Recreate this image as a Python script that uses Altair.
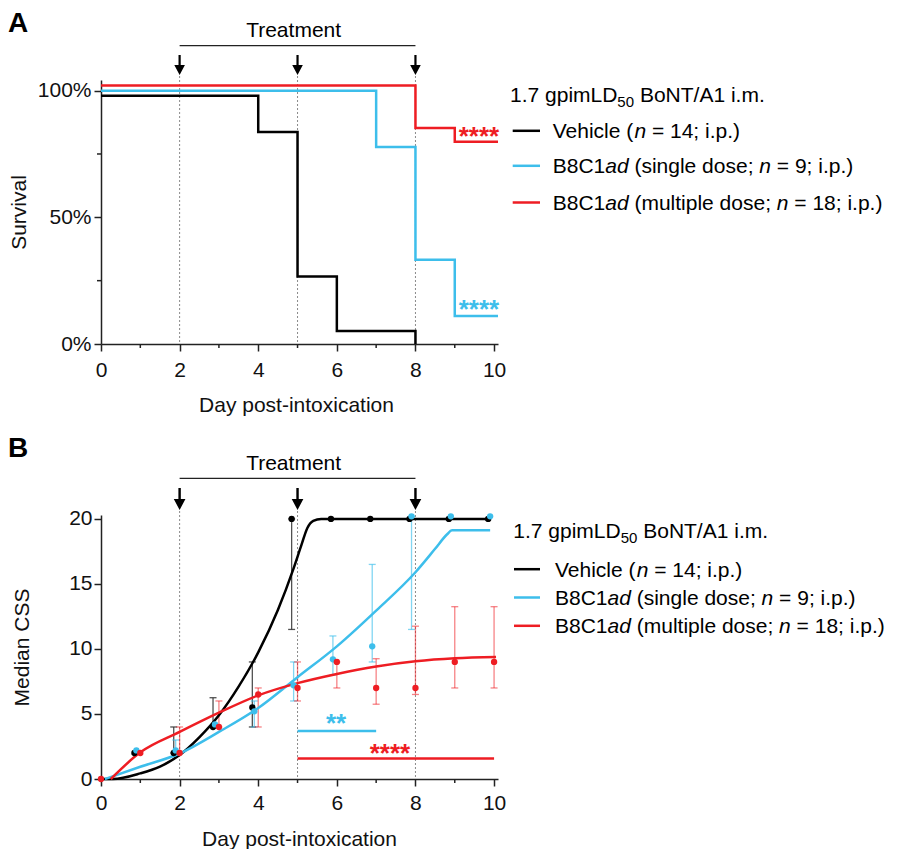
import altair as alt
import pandas as pd

FONT = "Liberation Sans"
FS = 21
SUB_FS = 15

GROUPS = ["Vehicle", "Single dose", "Multiple dose"]
COLORS = ["#000000", "#3DBEEB", "#EE1D23"]
BAR_COLORS = ["#333333", "#3DBEEB", "#EE1D23"]
BAR_OPAC = [0.85, 0.65, 0.55]
POINT_SHIFT = [-0.15, -0.1, 0.0]

LEGEND_TITLE = ["1.7 gpimLD", "50", "BoNT/A1 i.m."]
LEGEND_LABELS = ["Vehicle (_n_ = 14; i.p.)",
                 "B8C1_ad_ (single dose; _n_ = 9; i.p.)",
                 "B8C1_ad_ (multiple dose; _n_ = 18; i.p.)"]
TREAT_DAYS = [2, 5, 8]
X_MAJOR = [0, 2, 4, 6, 8, 10]
X_MINOR = [1, 3, 5, 7, 9]

# ---- Panel A: survival (as drawn) ----
SURV_DAYS = [[0, 4, 5, 6, 8], [0, 7, 8, 9, 10.1], [0, 8, 9, 10.1]]
SURV_VALS = [[98, 83.7, 26.6, 5.1, 0], [100, 77.8, 33.3, 11.1, 11.1], [102, 85.3, 79.8, 79.8]]
A_Y_MAJOR = [0, 50, 100]
A_Y_MINOR = [25, 75]
A_STARS = ["****", "****"]
A_STAR_X = [9.1, 9.1]
A_STAR_Y = [83.4, 15.1]
A_STAR_COL = [COLORS[2], COLORS[1]]

# ---- Panel B: median CSS ----
DAYS = [0, 1, 2, 3, 4, 5, 6, 7, 8, 9, 10]
MED = [[0, 2, 2, 4, 5.5, 20, 20, 20, 20, 20, 20],
       [0, 2.2, 2.2, 4.2, 5.2, 7.2, 9.2, 10.2, 20.2, 20.2, 20.2],
       [0, 2, 2, 4, 6.5, 7, 9, 7, 7, 9, 9]]
Q1 = [[0, 2, 2, 4, 4, 11.5, 20, 20, 20, 20, 20],
      [0, 2.2, 2, 4.2, 4, 6, 8, 9, 11.5, 20.2, 20.2],
      [0, 2, 2, 4, 4, 6, 7, 5.75, 6.5, 7, 7]]
Q3 = [[0, 2, 4, 6.25, 9, 20, 20, 20, 20, 20, 20],
      [0, 2.2, 3, 4.2, 6, 9, 11, 16.5, 20.2, 20.2, 20.2],
      [0, 2, 4, 6, 7, 9, 9, 9.25, 11.75, 13.25, 13.25]]
FIT_X = [[0, 0.3, 1, 1.5, 2, 2.5, 3, 3.5, 4, 4.5, 4.9, 5.1, 5.25, 5.4, 5.6, 9.9],
         [0.1, 1, 2, 3, 4, 5, 6, 7, 8, 8.5, 8.8, 8.93, 9.9],
         [0.25, 1, 2, 3, 4, 5, 6, 7, 8, 9, 10.05]]
FIT_Y = [[0, 0, 0.43, 0.95, 1.84, 3.2, 4.9, 7.1, 9.74, 13.0, 16.2, 18.0, 19.3, 19.85, 20, 20],
         [0, 0.94, 1.96, 3.62, 5.46, 7.83, 10.2, 12.95, 15.9, 17.7, 18.8, 19.12, 19.12],
         [0, 2.05, 3.62, 5.1, 6.43, 7.37, 8.08, 8.65, 9.05, 9.28, 9.38]]
B_Y_MAJOR = [0, 5, 10, 15, 20]
SIG_X1 = [5.0, 5.0]
SIG_X2 = [7.0, 10.0]
SIG_Y = [3.7, 1.58]
SIG_COL = [COLORS[1], COLORS[2]]
B_STARS = ["**", "****"]
B_STAR_X = [5.98, 7.35]
B_STAR_Y = [4.5, 2.2]

W, H = 397, 264
ARROW = "M-0.11,-1 L0.11,-1 L0.11,0 L0.53,0 L0,1 L-0.53,0 L-0.11,0 Z"

AW = {' ': 278, '(': 333, ')': 333, '.': 278, ';': 278, '=': 584, '/': 278, '*': 389, '%': 889, '-': 333}
for c in '0123456789':
    AW[c] = 556
AW.update({'A': 667, 'B': 667, 'C': 722, 'D': 722, 'L': 556, 'N': 722, 'T': 611, 'V': 667,
           'a': 556, 'b': 556, 'c': 500, 'd': 556, 'e': 556, 'g': 556, 'h': 556, 'i': 222,
           'l': 222, 'm': 833, 'n': 556, 'o': 556, 'p': 556, 's': 500, 't': 278, 'u': 556,
           'x': 500, 'r': 333, 'v': 500, 'y': 500})


def tw(s, size):
    return sum(AW.get(c, 556) for c in s) * size / 1000.0


def one(t=""):
    return pd.DataFrame({"t": [t]})


def txt(t, x, y, size=FS, style="normal", weight="normal", color="#000000", align="left"):
    return alt.Chart(one(t)).mark_text(font=FONT, fontSize=size, fontStyle=style, fontWeight=weight,
                                       color=color, align=align, baseline="alphabetic").encode(
        x=alt.value(x), y=alt.value(y), text="t:N")


def legend(x_title, yb_title, x_line0, x_line1, x_text, baselines):
    L = []
    x = x_title
    L.append(txt(LEGEND_TITLE[0], x, yb_title))
    x += tw(LEGEND_TITLE[0], FS)
    L.append(txt(LEGEND_TITLE[1], x, yb_title + 5, size=SUB_FS))
    x += tw(LEGEND_TITLE[1], SUB_FS) + tw(" ", FS)
    L.append(txt(LEGEND_TITLE[2], x, yb_title))
    sp = tw(" ", FS)
    for label, color, yb in zip(LEGEND_LABELS, COLORS, baselines):
        L.append(alt.Chart(one()).mark_rule(color=color, strokeWidth=2.5).encode(
            x=alt.value(x_line0), x2=alt.value(x_line1), y=alt.value(yb - 7.5)))
        x = x_text
        for k, seg in enumerate(label.split("_")):
            if not seg:
                continue
            lead = len(seg) - len(seg.lstrip(" "))
            trail = len(seg) - len(seg.rstrip(" "))
            core = seg.strip(" ")
            x += lead * sp
            L.append(txt(core, x, yb, style="italic" if k % 2 else "normal"))
            x += tw(core, FS) + trail * sp
    return L


def xaxis(title_x, title_y, lab_pad):
    return alt.Axis(values=X_MAJOR, tickSize=7, labelPadding=lab_pad, labelFlush=False, labelOverlap=False,
                    title="Day post-intoxication", titleX=title_x, titleY=title_y,
                    titleBaseline="alphabetic", titleAlign="center", grid=False)


def yaxis(values, title, title_x, lab_pad, expr=None):
    kw = dict(values=values, tickSize=7, labelPadding=lab_pad, labelFlush=False, labelOverlap=False,
              title=title, titleX=title_x, titleY=H / 2, titleBaseline="alphabetic",
              titleAlign="center", titleAngle=270, grid=False)
    if expr:
        kw["labelExpr"] = expr
    return alt.Axis(**kw)


def common_layers(xs, xax, arrow_y, arrow_size, bracket_y, treat_y, label, label_y):
    L = []
    L.append(alt.Chart(pd.DataFrame({"d": TREAT_DAYS})).mark_rule(
        color="#8a8a8a", strokeWidth=1, strokeDash=[2, 2]).encode(
        x=alt.X("d:Q", scale=xs, axis=xax), y=alt.value(-4), y2=alt.value(H)))
    L.append(alt.Chart(pd.DataFrame({"d": X_MINOR})).mark_rule(color="#222222", strokeWidth=1.5).encode(
        x=alt.X("d:Q", scale=xs, axis=xax), y=alt.value(H), y2=alt.value(H + 4)))
    L.append(alt.Chart(pd.DataFrame({"d": TREAT_DAYS})).mark_point(
        shape=ARROW, filled=True, size=arrow_size, color="#000000", opacity=1, strokeWidth=0).encode(
        x=alt.X("d:Q", scale=xs, axis=xax), y=alt.value(arrow_y)))
    L.append(alt.Chart(pd.DataFrame({"a": [TREAT_DAYS[0]], "b": [TREAT_DAYS[-1]]})).mark_rule(
        color="#222222", strokeWidth=1.3).encode(
        x=alt.X("a:Q", scale=xs, axis=xax), x2="b:Q", y=alt.value(bracket_y)))
    L.append(alt.Chart(pd.DataFrame({"d": [4.9], "t": ["Treatment"]})).mark_text(
        font=FONT, fontSize=FS, align="center", baseline="alphabetic", color="#000000").encode(
        x=alt.X("d:Q", scale=xs, axis=xax), y=alt.value(treat_y), text="t:N"))
    L.append(txt(label, -93, label_y, size=28, weight="bold"))
    return L


# ---------------- Panel A ----------------
xsA = alt.Scale(domain=[0, 10.1], nice=False, zero=False)
ysA = alt.Scale(domain=[0, 104.2], nice=False, zero=False)
xaxA = xaxis(195, 67, 8)
yaxA = yaxis(A_Y_MAJOR, "Survival", -76, 3, "datum.value + '%'")

LA = common_layers(xsA, xaxA, -15, 400, -34.3, -43.3, "A", -48)
LA.append(alt.Chart(pd.DataFrame({"v": A_Y_MINOR})).mark_rule(color="#222222", strokeWidth=1.5).encode(
    y=alt.Y("v:Q", scale=ysA, axis=yaxA), x=alt.value(0), x2=alt.value(-4)))
for g in range(3):
    df = pd.DataFrame({"day": SURV_DAYS[g], "s": SURV_VALS[g]})
    LA.append(alt.Chart(df).mark_line(interpolate="step-after", strokeWidth=2.5, color=COLORS[g]).encode(
        x=alt.X("day:Q", scale=xsA, axis=xaxA), y=alt.Y("s:Q", scale=ysA, axis=yaxA)))
dfs = pd.DataFrame({"t": A_STARS, "x": A_STAR_X, "y": A_STAR_Y, "c": A_STAR_COL})
LA.append(alt.Chart(dfs).mark_text(font=FONT, fontSize=26, fontWeight="bold", align="left",
                                   baseline="alphabetic", dy=12).encode(
    x=alt.X("x:Q", scale=xsA, axis=xaxA), y=alt.Y("y:Q", scale=ysA, axis=yaxA), text="t:N",
    color=alt.Color("c:N", scale=None)))
LA += legend(409, 21.7, 411.7, 439, 451.7, [58.3, 93.3, 130])
panelA = alt.layer(*LA).properties(width=W, height=H)

# ---------------- Panel B ----------------
xsB = alt.Scale(domain=[0, 10.1], nice=False, zero=False)
ysB = alt.Scale(domain=[0, 20.3], nice=False, zero=False)
xaxB = xaxis(198, 66, 6)
yaxB = yaxis(B_Y_MAJOR, "Median CSS", -73, 2)

LB = common_layers(xsB, xaxB, -16, 484, -36.7, -45, "B", -58.3)
# error bars
for g in range(3):
    rows = [(d + POINT_SHIFT[g], lo, hi) for d, lo, hi in zip(DAYS, Q1[g], Q3[g]) if hi > lo]
    df = pd.DataFrame(rows, columns=["x", "lo", "hi"])
    base = alt.Chart(df)
    LB.append(base.mark_rule(color=BAR_COLORS[g], opacity=BAR_OPAC[g], strokeWidth=1.3).encode(
        x=alt.X("x:Q", scale=xsB, axis=xaxB), y=alt.Y("lo:Q", scale=ysB, axis=yaxB), y2="hi:Q"))
    for col in ["lo", "hi"]:
        LB.append(base.mark_tick(orient="horizontal", size=7, thickness=1.3, color=BAR_COLORS[g],
                                 opacity=BAR_OPAC[g]).encode(
            x=alt.X("x:Q", scale=xsB, axis=xaxB), y=alt.Y(col + ":Q", scale=ysB, axis=yaxB)))
# significance lines
for i in range(2):
    df = pd.DataFrame({"a": [SIG_X1[i]], "b": [SIG_X2[i]], "y": [SIG_Y[i]]})
    LB.append(alt.Chart(df).mark_rule(color=SIG_COL[i], strokeWidth=2.5).encode(
        x=alt.X("a:Q", scale=xsB, axis=xaxB), x2="b:Q", y=alt.Y("y:Q", scale=ysB, axis=yaxB)))
# fitted curves
for g in range(3):
    df = pd.DataFrame({"x": FIT_X[g], "y": FIT_Y[g]})
    LB.append(alt.Chart(df).mark_line(interpolate="monotone", strokeWidth=2.5, color=COLORS[g]).encode(
        x=alt.X("x:Q", scale=xsB, axis=xaxB), y=alt.Y("y:Q", scale=ysB, axis=yaxB)))
# points
for g in range(3):
    df = pd.DataFrame({"x": [d + POINT_SHIFT[g] for d in DAYS], "m": MED[g]})
    df = df[df["x"] >= 0]
    LB.append(alt.Chart(df).mark_circle(size=40, opacity=1, color=COLORS[g]).encode(
        x=alt.X("x:Q", scale=xsB, axis=xaxB), y=alt.Y("m:Q", scale=ysB, axis=yaxB)))
dfs = pd.DataFrame({"t": B_STARS, "x": B_STAR_X, "y": B_STAR_Y, "c": SIG_COL})
LB.append(alt.Chart(dfs).mark_text(font=FONT, fontSize=26, fontWeight="bold", align="center",
                                   baseline="alphabetic", dy=12).encode(
    x=alt.X("x:Q", scale=xsB, axis=xaxB), y=alt.Y("y:Q", scale=ysB, axis=yaxB), text="t:N",
    color=alt.Color("c:N", scale=None)))
LB += legend(412.3, 23.3, 413, 439, 454, [61.7, 90, 118.3])
panelB = alt.layer(*LB).properties(width=W, height=H)

chart = alt.vconcat(panelA, panelB, spacing=171, bounds="flush").properties(
    padding={"left": 0, "top": 2, "right": 0, "bottom": 0}
).configure(font=FONT).configure_view(stroke=None).configure_axis(
    domainColor="#222222", domainWidth=1.5, tickColor="#222222", tickWidth=1.5,
    labelFont=FONT, labelFontSize=FS, labelColor="#111111",
    titleFont=FONT, titleFontSize=FS, titleFontWeight="normal", titleColor="#111111")

chart.save("out.html", embed_options={"renderer": "svg", "actions": False})
